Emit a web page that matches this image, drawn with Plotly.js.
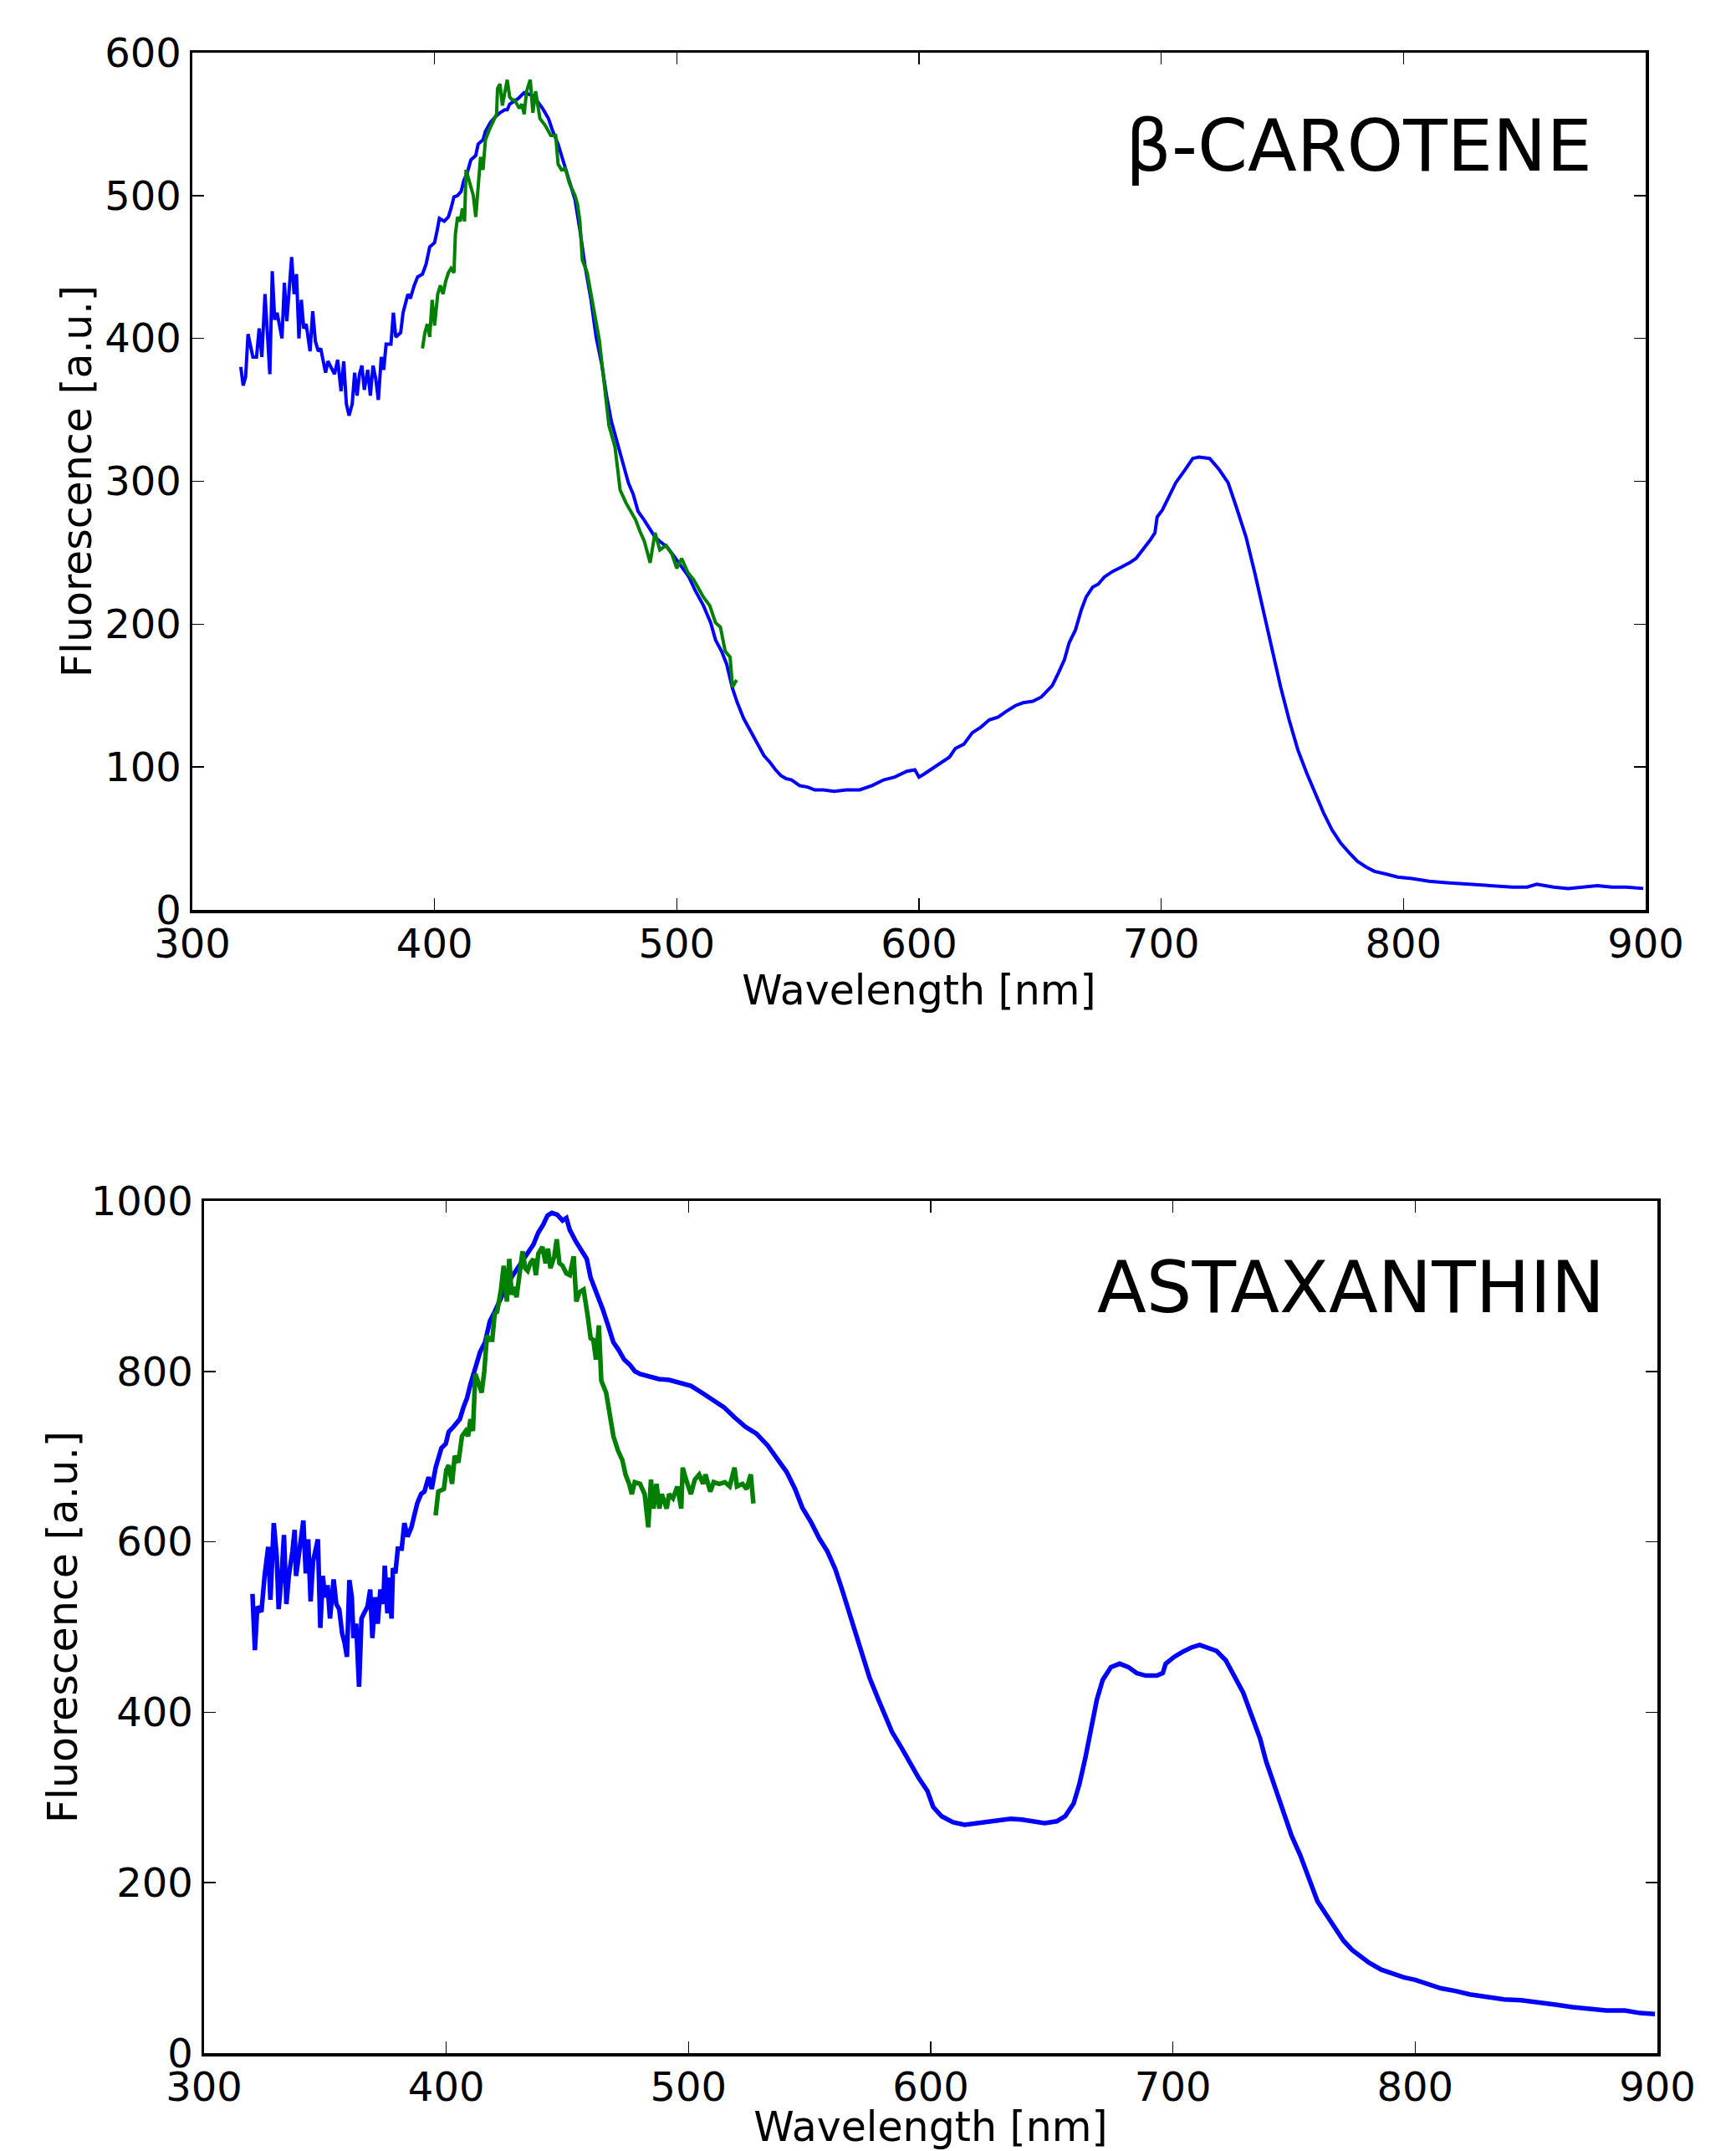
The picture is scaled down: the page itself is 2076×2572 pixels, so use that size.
<!DOCTYPE html>
<html>
<head>
<meta charset="utf-8">
<script src="https://cdn.plot.ly/plotly-3.0.1.min.js"></script>
<style>html,body{margin:0;padding:0;background:#fff;}#chart{width:2076px;height:2572px;}</style>
</head>
<body>
<div id="chart"></div>
<script>
// ---- β-CAROTENE panel ----
const caroteneBlueNm = [320,321,322,323,324,325,326.5,327.6,328.7,330,332,333,334,335,337,338,339,340.4,341,342,343,344,345,346,347,348.6,349.7,350.8,352,353,354,355,356,357.6,358.7,360,361.4,362.5,363.6,364.7,366,367,368,369,370,371,372.4,373.5,374.6,375.7,376.8,378,379,380,382,383,384,386,387,389,390,391.6,393,395,396.5,398,400,401,402,404,405.7,406.8,408,409.5,411,412,413.5,415,417,418,420,421,423,425,427,429,430,431,433,434.6,437,439,440.6,442,444.6,447,448.6,451,453,455.6,458,460,462,464.5,466.7,469,471,473,475.5,477.7,480,482,484,486.5,488.7,491,493,496,498.7,502,505,507.5,511,514,516,518.5,520.6,523,525,527.6,529.8,532,534,536,538.6,540.8,543,545,547.4,550.7,554,557,560.5,565,570,575.5,580.6,585.4,590,595,598.3,600,602,605.5,609,612.6,615,618.5,622,625.6,629,632.7,636,639.8,643,647,650.5,653,655,657.6,660,662,664.6,667,669,671.7,674,676.5,680,683.6,687,689.6,692,695.5,697.4,698.3,700.5,702.6,706,709.8,713,715.6,720,724,727.6,731,735,738.6,742,745.8,749.3,752.8,756.4,760,763.5,767,770.5,774,777.6,781,784.6,788,793,797.6,803.5,810.6,817.8,827,839,845,851,855,862,868,874,880,886,892,899];
const caroteneBlueVal = [380,367,373,403,395,387,387,407,387,431,375,447,413,418,400,439,412,443,457,431,445,400,427,407,410,391,419,398,391,393,384,376,384,378,375,385,363,384,354,346,354,376,360,375,381,364,378,360,381,372,357,387,378,396,396,418,401,404,418,431,428,437,443,445,452,464,467,475,484,482,485,491,499,500,503,510,516,525,528,536,539,545,551,555,558,560,560,564,566,568,572,571,570,567,561,554,546,536,525,512,497,476,452,428,401,382,360,342,327,312,299,291,279,273,267,261,258,254,248,240,233,224,213,201,189,181,172,155,145,134,127,120,114,108,103,98,94,92,91,87,86,84,84,83,84,84,87,91,93,97,98,93,95,99,103,107,113,116,124,128,133,135,139,143,145,146,149,153,157,166,175,187,196,210,219,226,228,233,237,240,243,246,251,259,264,275,280,287,299,308,316,317,316,308,299,282,261,236,210,182,156,133,112,96,82,68,56,47,40,34,30,27,25,23,22,20,19,18,17,16,16,18,16,15,16,17,16,16,15,16,15];
const caroteneGreenNm = [395,396,397,398,399,400,401.3,402.4,403.5,404.6,405.7,406.8,408,408.6,409.5,410.6,411.5,412.4,413,414,416,417,418,419,420,421,422.6,424,425.6,426,427,428,430,431,432,433,435,436,437,438,439.5,440.6,441.7,443.5,445.7,448,450,451,452.4,454,455.6,458,459,460,461,463,466,468,470,472,474.5,476.6,479,481,483,484.8,486.6,489,491,493,495.6,498,500,502,504.6,507,509,511,513.6,516,518,520,522,523,524.7];
const caroteneGreenVal = [393,404,410,401,427,409,431,437,431,440,446,449,446,473,485,482,491,482,518,512,500,485,509,527,518,539,546,551,557,575,578,563,581,569,567,567,561,564,557,573,581,558,573,554,549,542,542,522,518,519,509,500,494,482,455,446,419,399,369,339,324,294,285,279,273,265,258,243,264,252,255,249,239,246,236,231,225,219,213,201,198,181,177,156,161];

// ---- ASTAXANTHIN panel ----
const astaBlueNm = [320,321,322,323.7,325,326.5,327.4,328.8,330,330.8,332,333,334,335,336.5,337.4,338,339.6,340.5,341,342,343,344,345,347,348,349,350,351,352,353.5,354.6,355.8,357,358,359,360,361,361.7,362.8,364,365,366,367.5,368.6,369.5,370.6,371.7,372.8,374,374.6,375.7,376.3,377.4,378,379,380,381.6,382.7,384,385.6,387,388,389.6,391,392.7,394,395.6,396.7,398,399.8,401,403,405.6,407,408.6,410,412,414,416,418,420,422.6,425.5,428,430.8,433.6,436,438,440,441.8,443.6,445.8,448,449.6,451,453.6,455.8,458,459.6,462.4,464.6,466.8,469,471.2,473.4,475.7,477.9,480,483.4,487.8,492,496.7,501,505.5,510,514.6,519,523.5,528,532.7,537,540.5,544,547,550.6,554,557.3,560.6,563.5,567.8,571.3,574.8,578.4,580.8,584,588,591.6,595,598.6,601,604.5,609.2,614,618.7,623.5,628,633,637.7,642.4,647,652,655.5,659,661.4,663.8,666,668.6,671,674.4,678,681.6,685,688.7,693.4,695.8,697,700.5,704,707.6,711,714.7,718,721.8,725.3,729,732.5,736,738.4,742,745.5,749,752.6,756,759.7,763.2,766.8,770.4,774,777.5,781,786,790.5,795.3,800,804.7,810.7,816.6,822.5,829.6,836.7,843.8,851,858,865,872,879,886.5,893,899];
const astaBlueVal = [539,473,524,518,560,594,532,622,583,521,560,608,527,560,589,614,560,594,611,625,563,603,530,577,603,499,560,535,549,510,556,527,521,493,482,465,555,535,487,504,430,510,516,524,544,487,535,504,544,527,572,516,558,510,569,563,592,592,622,606,617,634,645,656,659,676,662,687,696,710,715,729,735,744,757,769,785,803,823,834,859,870,887,904,915,927,941,949,963,972,983,986,984,977,980,966,952,941,932,910,890,873,854,834,825,814,808,800,797,794,791,790,787,783,775,766,758,746,735,727,713,696,682,662,640,623,604,589,568,543,505,470,440,415,400,377,358,339,323,308,289,278,271,268,270,271,274,275,274,272,270,272,278,293,316,346,381,415,438,453,457,453,446,443,443,446,457,465,471,476,479,476,472,461,442,423,396,369,343,312,281,255,232,205,178,163,148,132,121,113,106,98,93,89,86,81,76,73,69,66,63,62,60,57,54,52,50,50,47,46];
const astaGreenNm = [395.6,396.7,399,400,401,402.4,403.5,405,406.5,408,409,410,411,412,413,414.6,415.7,416.8,418,419,420,421,422.6,423.7,425,426,427,428,429,430,431.5,432.6,433.6,434.7,436,437,438,439.7,441,442,443,444.6,445.6,446.7,448,449.6,451,452.6,453.7,455,456.7,458.4,459.6,460.7,461.8,463,464,466,467.5,469,470.9,472.7,474,475.5,476.6,477.8,480,481.9,483.4,484.5,485.6,486.8,488,489,491,492,493.6,495.4,497,497.6,499,501,502.6,504.4,506,507,509,510.4,512.7,515,517,519,520,522.3,524,525.7,526.8];
const astaGreenVal = [631,659,662,684,690,668,701,693,724,730,724,744,730,797,789,775,800,842,837,837,868,870,896,924,882,932,890,899,887,913,941,921,918,927,932,913,938,946,927,944,921,935,955,927,924,915,913,935,882,893,896,865,839,837,814,854,789,775,746,724,707,696,679,668,656,670,668,656,617,673,639,668,639,656,639,656,651,665,639,687,673,656,673,679,668,679,659,670,668,670,665,687,665,668,662,679,645];

const xTicks = [300,400,500,600,700,800,900];
const caroteneYTicks = [0,100,200,300,400,500,600];
const astaYTicks = [0,200,400,600,800,1000];
const xLabel = 'Wavelength [nm]';
const yLabel = 'Fluorescence [a.u.]';
const panelNames = ['β-CAROTENE', 'ASTAXANTHIN'];

const BLUE = '#0000ff', GREEN = '#008000';
const FONT = 'DejaVu Sans, Bitstream Vera Sans, sans-serif';
const W = 2076, H = 2572;

const traces = [
  {x: caroteneBlueNm, y: caroteneBlueVal, xaxis: 'x', yaxis: 'y', mode: 'lines', line: {color: BLUE, width: 4}, hoverinfo: 'skip'},
  {x: caroteneGreenNm, y: caroteneGreenVal, xaxis: 'x', yaxis: 'y', mode: 'lines', line: {color: GREEN, width: 4}, hoverinfo: 'skip'},
  {x: astaBlueNm, y: astaBlueVal, xaxis: 'x2', yaxis: 'y2', mode: 'lines', line: {color: BLUE, width: 5.5}, hoverinfo: 'skip'},
  {x: astaGreenNm, y: astaGreenVal, xaxis: 'x2', yaxis: 'y2', mode: 'lines', line: {color: GREEN, width: 5.5}, hoverinfo: 'skip'}
];

function axisCommon(extra) {
  return Object.assign({
    showgrid: false, zeroline: false,
    showline: true, linecolor: '#000', linewidth: 3.5, mirror: 'allticks',
    ticks: 'inside', ticklen: 14, tickwidth: 1.5, tickcolor: '#000',
    tickfont: {family: FONT, size: 48, color: '#000'},
    automargin: false, fixedrange: true
  }, extra);
}

const layout = {
  width: W, height: H,
  margin: {l: 0, r: 0, t: 0, b: 0},
  paper_bgcolor: '#fff', plot_bgcolor: '#fff',
  showlegend: false,
  font: {family: FONT, color: '#000'},
  xaxis: axisCommon({domain: [230/W, 1968/W], anchor: 'y', range: [300, 900], tickvals: xTicks, ticklabelstandoff: -4,
    title: {text: xLabel, font: {family: FONT, size: 49, color: '#000'}, standoff: 12}}),
  yaxis: axisCommon({domain: [(H-1088)/H, (H-63)/H], anchor: 'x', range: [0, 600], tickvals: caroteneYTicks,
    title: {text: yLabel, font: {family: FONT, size: 49, color: '#000'}, standoff: 1}}),
  xaxis2: axisCommon({domain: [244/W, 1982/W], anchor: 'y2', range: [300, 900], tickvals: xTicks, ticklabelstandoff: -4,
    title: {text: xLabel, font: {family: FONT, size: 49, color: '#000'}, standoff: 22}}),
  yaxis2: axisCommon({domain: [(H-2455)/H, (H-1436)/H], anchor: 'x2', range: [0, 1000], tickvals: astaYTicks,
    title: {text: yLabel, font: {family: FONT, size: 49, color: '#000'}, standoff: 1}}),
  annotations: [
    {text: panelNames[0], xref: 'paper', yref: 'paper', x: 1906/W, y: (H-174)/H, xanchor: 'right', yanchor: 'middle',
     showarrow: false, font: {family: FONT, size: 86, color: '#000'}},
    {text: panelNames[1], xref: 'paper', yref: 'paper', x: 1921/W, y: (H-1539)/H, xanchor: 'right', yanchor: 'middle',
     showarrow: false, font: {family: FONT, size: 86, color: '#000'}}
  ]
};

Plotly.newPlot('chart', traces, layout, {staticPlot: true, displayModeBar: false});
</script>
</body>
</html>
